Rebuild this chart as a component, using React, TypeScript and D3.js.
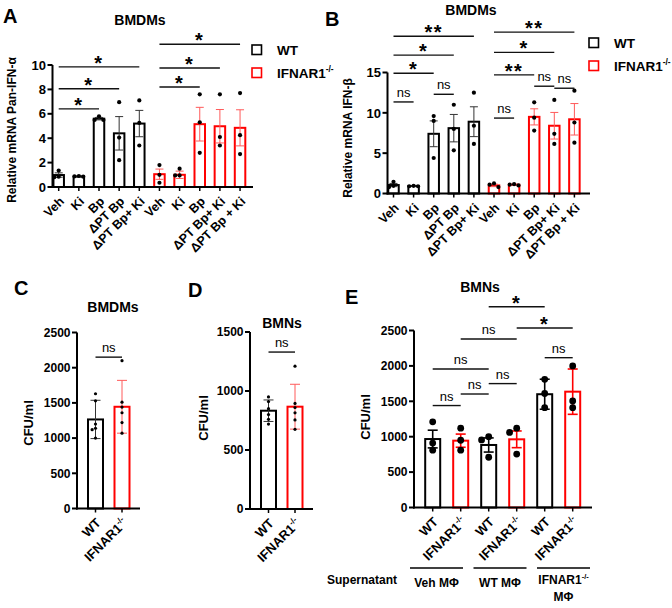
import * as d3 from "d3";

const FONT = "'Liberation Sans', Arial, Helvetica, sans-serif";
const BLACK = "#000000";
const RED = "#ff0000";

// A / B: BMDM qPCR, WT then IFNAR1-/- groups
const abLabels = ["Veh", "Ki", "Bp", "ΔPT Bp", "ΔPT Bp+ Ki", "Veh", "Ki", "Bp", "ΔPT Bp+ Ki", "ΔPT Bp + Ki"];
const abGroups = ["WT", "WT", "WT", "WT", "WT", "KO", "KO", "KO", "KO", "KO"];

const aMeans = [0.98, 0.86, 5.6, 4.4, 5.2, 1.05, 1.0, 5.15, 4.98, 4.85];
const aErrors = [0.18, 0.03, 0.1, 1.37, 1.08, 0.42, 0.3, 1.38, 1.37, 1.48];
const aPoints = [
  [1.35, 0.85, 0.8], [0.9, 0.87, 0.85], [5.8, 5.5, 5.5], [6.95, 4.05, 2.2], [7.1, 5.25, 3.4],
  [1.8, 1.0, 0.35], [1.5, 0.95, 0.95], [7.6, 5.3, 2.8], [7.6, 4.1, 3.4], [7.7, 4.25, 2.7],
];
// [from, to, text, level]
const aBrackets: [number, number, string, number][] = [
  [0, 2, "*", 6.4], [0, 3, "*", 8.05], [0, 4, "*", 9.85],
  [5, 7, "*", 8.2], [5, 8, "*", 9.75], [5, 9, "*", 11.7],
];

const bMeans = [1.05, 0.92, 7.4, 8.1, 8.9, 1.0, 1.08, 9.5, 8.4, 9.2];
const bErrors = [0.2, 0.05, 1.6, 1.7, 1.85, 0.15, 0.08, 1.0, 1.65, 1.95];
const bPoints = [
  [1.45, 0.95, 0.8], [0.95, 0.9, 0.9], [9.6, 9.0, 4.4], [11.0, 8.0, 5.35], [12.5, 8.4, 6.15],
  [1.25, 1.1, 0.8], [1.15, 1.1, 1.0], [11.3, 9.4, 7.8], [11.6, 7.4, 6.15], [12.75, 8.8, 6.3],
];
const bBrackets: [number, number, string, number][] = [
  [0, 4, "**", 19.5], [0, 3, "*", 17.15], [0, 2, "*", 14.9], [0, 1, "ns", 11.35], [2, 3, "ns", 12.3],
  [5, 9, "**", 20.0], [5, 8, "*", 17.5], [5, 7, "**", 14.7], [5, 6, "ns", 9.35], [7, 8, "ns", 13.3], [8, 9, "ns", 13.05],
];

// C / D: CFU, n = 6
const cdLabels = ["WT", "IFNAR1-/-"];
const cdGroups = ["WT", "KO"];
const cMeans = [1265, 1445];
const cErrors = [272, 375];
const cPoints = [[1630, 1530, 1200, 1140, 1120, 1000], [2100, 1510, 1440, 1360, 1220, 1070]];
const cBrackets: [number, number, string, number][] = [[0, 1, "ns", 2150]];

const dMeans = [833, 867];
const dErrors = [91, 190];
const dPoints = [[950, 910, 850, 800, 760, 720], [1210, 895, 860, 815, 755, 675]];
const dBrackets: [number, number, string, number][] = [[0, 1, "ns", 1330]];

// E: BMN CFU after supernatant transfer
const eLabels = ["WT", "IFNAR1-/-", "WT", "IFNAR1-/-", "WT", "IFNAR1-/-"];
const eGroups = ["WT", "KO", "WT", "KO", "WT", "KO"];
const eMeans = [967, 944, 883, 963, 1600, 1636];
const eErrors = [125, 93, 100, 118, 212, 320];
const ePoints = [
  [1210, 910, 810], [1120, 950, 810], [1000, 955, 710],
  [1120, 1060, 755], [1810, 1610, 1410], [2000, 1410, 1505],
];
const eBrackets: [number, number, string, number][] = [
  [0, 1, "ns", 1440], [1, 2, "ns", 1603], [2, 3, "ns", 1750], [0, 2, "ns", 1956],
  [1, 3, "ns", 2380], [4, 5, "ns", 2116], [3, 5, "*", 2535], [2, 4, "*", 2836],
];
const eSupernatants = ["Veh MΦ", "WT MΦ", "IFNAR1-/-|MΦ"];

// renders "-/-" as a superscript
function withSup(s: string, size: number) {
  const i = s.indexOf("-/-");
  if (i < 0) return s;
  return [
    s.slice(0, i),
    <tspan key="sup" fontSize={size * 0.62} dy={-size * 0.42}>-/-</tspan>,
  ];
}

// spreads dots sideways where they would overlap
function dodge(ys: number[], d: number) {
  const placed: [number, number][] = [];
  return ys.map((y) => {
    for (const k of [0, -1, 1, -2, 2]) {
      const x = k * d;
      if (placed.every(([px, py]) => Math.hypot(px - x, py - y) >= d * 0.9)) {
        placed.push([x, y]);
        return x;
      }
    }
    placed.push([0, y]);
    return 0;
  });
}

type PanelProps = {
  axisX: number; baseY: number; topY: number; endX: number;
  yMax: number; ticks: number[];
  firstX: number; step: number; barW: number;
  labels: string[]; groups: string[];
  means: number[]; errors: number[]; points: number[][];
  brackets: [number, number, string, number][];
  dotR: number; capW: number; errW: number; errSoft: boolean;
  tickSize: number; labelSize: number;
};

function BarPanel(p: PanelProps) {
  const y = d3.scaleLinear().domain([0, p.yMax]).range([p.baseY, p.topY]);
  const idx = d3.range(p.labels.length);
  const x = d3.scalePoint<number>().domain(idx).range([p.firstX, p.firstX + p.step * (idx.length - 1)]);
  const color = (i: number) => (p.groups[i] === "WT" ? BLACK : RED);
  const errColor = (i: number) => (p.groups[i] === "WT" ? (p.errSoft ? "#333" : BLACK) : p.errSoft ? "#ff5a5a" : RED);

  return (
    <g fontFamily={FONT}>
      {/* bars */}
      {idx.map((i) => (
        <rect key={`b${i}`} x={x(i)! - p.barW / 2} y={y(p.means[i])} width={p.barW}
          height={p.baseY - y(p.means[i])} fill="white" stroke={color(i)} strokeWidth={2} />
      ))}
      {/* error bars */}
      {idx.map((i) => {
        const cx = x(i)!;
        const hi = y(p.means[i] + p.errors[i]);
        const lo = y(Math.max(0, p.means[i] - p.errors[i]));
        return (
          <g key={`e${i}`} stroke={errColor(i)} strokeWidth={p.errW}>
            <line x1={cx} x2={cx} y1={hi} y2={lo} />
            <line x1={cx - p.capW} x2={cx + p.capW} y1={hi} y2={hi} />
            <line x1={cx - p.capW} x2={cx + p.capW} y1={lo} y2={lo} />
          </g>
        );
      })}
      {/* replicate dots */}
      {idx.map((i) => {
        const ys = p.points[i].map((v) => y(v));
        const dx = dodge(ys, p.dotR * 2.1);
        return ys.map((py, k) => (
          <circle key={`d${i}-${k}`} cx={x(i)! + dx[k]} cy={py} r={p.dotR} fill={BLACK} />
        ));
      })}
      {/* y axis */}
      <line x1={p.axisX} x2={p.axisX} y1={p.topY} y2={p.baseY + 1} stroke={BLACK} strokeWidth={2} />
      {p.ticks.map((t) => (
        <g key={`t${t}`}>
          <line x1={p.axisX - 5} x2={p.axisX} y1={y(t)} y2={y(t)} stroke={BLACK} strokeWidth={2} />
          <text x={p.axisX - 6.5} y={y(t)} dy="0.36em" textAnchor="end" fontSize={p.tickSize} fontWeight="bold">{t}</text>
        </g>
      ))}
      {/* x axis */}
      <line x1={p.axisX - 1} x2={p.endX} y1={p.baseY} y2={p.baseY} stroke={BLACK} strokeWidth={2} />
      {idx.map((i) => (
        <g key={`x${i}`}>
          <line x1={x(i)} x2={x(i)} y1={p.baseY} y2={p.baseY + 4} stroke={BLACK} strokeWidth={1.5} />
          <text transform={`translate(${x(i)! + 3},${p.baseY + 12}) rotate(-45)`} dy="0.35em"
            textAnchor="end" fontSize={p.labelSize} fontWeight="bold">
            {withSup(p.labels[i], p.labelSize)}
          </text>
        </g>
      ))}
      {/* significance brackets */}
      {p.brackets.map(([a, b, txt, lvl], k) => {
        const ly = y(lvl);
        const star = txt !== "ns";
        return (
          <g key={`s${k}`}>
            <line x1={x(a)} x2={x(b)} y1={ly} y2={ly} stroke="#111" strokeWidth={1.4} />
            <text x={(x(a)! + x(b)!) / 2} y={star ? ly + 3 : ly - 5} textAnchor="middle"
              fontSize={star ? 20 : 13} fontWeight={star ? "bold" : "normal"} letterSpacing={star ? 1.5 : 0}>
              {txt}
            </text>
          </g>
        );
      })}
    </g>
  );
}

function Legend({ x, y }: { x: number; y: number }) {
  return (
    <g fontFamily={FONT} fontSize={13.5} fontWeight="bold">
      <rect x={x} y={y} width={9.5} height={9.5} fill="white" stroke={BLACK} strokeWidth={1.6} />
      <text x={x + 25} y={y + 4.75} dy="0.36em">WT</text>
      <rect x={x} y={y + 23} width={9.5} height={9.5} fill="white" stroke={RED} strokeWidth={1.6} />
      <text x={x + 25} y={y + 27.75} dy="0.36em">{withSup("IFNAR1-/-", 13.5)}</text>
    </g>
  );
}

function Heading({ x, y, text, size = 14 }: { x: number; y: number; text: string; size?: number }) {
  return <text x={x} y={y} textAnchor="middle" fontFamily={FONT} fontSize={size} fontWeight="bold">{text}</text>;
}

function YTitle({ x, y, text, size = 12 }: { x: number; y: number; text: string; size?: number }) {
  return (
    <text transform={`translate(${x},${y}) rotate(-90)`} textAnchor="middle" dy="0.36em"
      fontFamily={FONT} fontSize={size} fontWeight="bold">{text}</text>
  );
}

export default function App() {
  const small = { dotR: 1.6, capW: 5, errW: 1, errSoft: true, tickSize: 12, labelSize: 13 };
  return (
    <svg width={672} height={608} viewBox="0 0 672 608"
      style={{ position: "absolute", left: 0, top: 0, background: "white" }}>
      {/* A */}
      <text x={3} y={23} fontFamily={FONT} fontSize={20} fontWeight="bold">A</text>
      <Heading x={140} y={25} text="BMDMs" />
      <YTitle x={12} y={130} text="Relative mRNA Pan-IFN-α" />
      <BarPanel axisX={52.5} baseY={187} topY={65} endX={253} yMax={10} ticks={[0, 2, 4, 6, 8, 10]}
        firstX={58.7} step={20.15} barW={10.5} labels={abLabels} groups={abGroups}
        means={aMeans} errors={aErrors} points={aPoints} brackets={aBrackets}
        dotR={2.1} capW={4} errW={1} errSoft={true} tickSize={13} labelSize={12.5} />
      <Legend x={252} y={45} />

      {/* B */}
      <text x={325} y={26} fontFamily={FONT} fontSize={20} fontWeight="bold">B</text>
      <Heading x={471} y={15} text="BMDMs" />
      <YTitle x={348} y={138} text="Relative mRNA IFN-β" />
      <BarPanel axisX={387.5} baseY={193.5} topY={72.5} endX={590} yMax={15} ticks={[0, 5, 10, 15]}
        firstX={393.5} step={20.1} barW={10.5} labels={abLabels} groups={abGroups}
        means={bMeans} errors={bErrors} points={bPoints} brackets={bBrackets}
        dotR={2.1} capW={4} errW={1} errSoft={true} tickSize={13} labelSize={12.5} />
      <Legend x={589} y={38} />

      {/* C */}
      <text x={14} y={295} fontFamily={FONT} fontSize={20} fontWeight="bold">C</text>
      <Heading x={113} y={312} text="BMDMs" />
      <YTitle x={28} y={423} text="CFU/ml" size={13} />
      <BarPanel axisX={77} baseY={508.5} topY={332.5} endX={140} yMax={2500} ticks={d3.range(0, 2501, 500)}
        firstX={95.5} step={26.5} barW={15} labels={cdLabels} groups={cdGroups}
        means={cMeans} errors={cErrors} points={cPoints} brackets={cBrackets} {...small} />

      {/* D */}
      <text x={188} y={297} fontFamily={FONT} fontSize={20} fontWeight="bold">D</text>
      <Heading x={282} y={328} text="BMNs" />
      <YTitle x={203} y={418} text="CFU/ml" size={13} />
      <BarPanel axisX={250} baseY={509} topY={332} endX={313} yMax={1500} ticks={[0, 500, 1000, 1500]}
        firstX={268.5} step={26.5} barW={15} labels={cdLabels} groups={cdGroups}
        means={dMeans} errors={dErrors} points={dPoints} brackets={dBrackets} {...small} />

      {/* E */}
      <text x={345} y={304} fontFamily={FONT} fontSize={20} fontWeight="bold">E</text>
      <Heading x={480} y={292} text="BMNs" />
      <YTitle x={365} y={417} text="CFU/ml" size={13} />
      <BarPanel axisX={414} baseY={507.5} topY={330.5} endX={592} yMax={2500} ticks={d3.range(0, 2501, 500)}
        firstX={432.7} step={28} barW={15} labels={eLabels} groups={eGroups}
        means={eMeans} errors={eErrors} points={ePoints} brackets={eBrackets}
        dotR={3.4} capW={5} errW={1.6} errSoft={false} tickSize={12} labelSize={13} />
      <text x={397} y={584} textAnchor="end" fontFamily={FONT} fontSize={12} fontWeight="bold">Supernatant</text>
      {eSupernatants.map((s, k) => {
        const x0 = 410 + k * 63.5;
        const lines = s.split("|");
        return (
          <g key={s} fontFamily={FONT} fontSize={12} fontWeight="bold">
            <line x1={x0} x2={x0 + 53} y1={568} y2={568} stroke={BLACK} strokeWidth={1.5} />
            {lines.map((ln, j) => (
              <text key={ln} x={x0 + 26.5} y={lines.length > 1 ? 584 + j * 17 : 587} textAnchor="middle">
                {withSup(ln, 12)}
              </text>
            ))}
          </g>
        );
      })}
    </svg>
  );
}
